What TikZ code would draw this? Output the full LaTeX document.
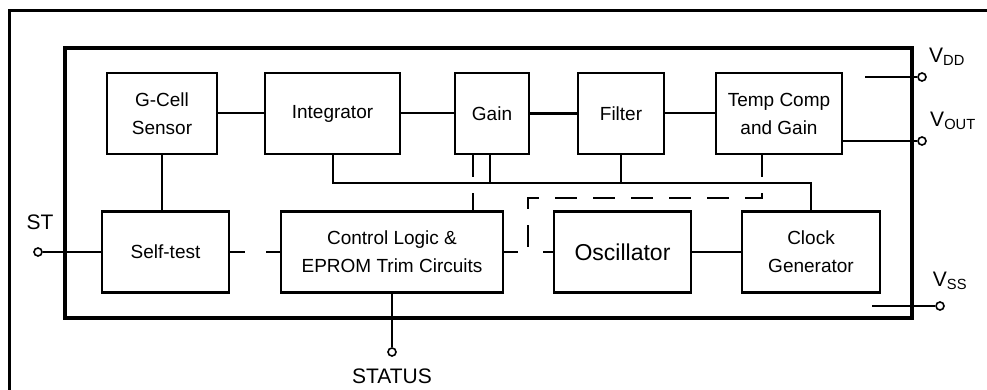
\documentclass[tikz,border=0pt]{standalone}
\usepackage{fontspec}
\setmainfont{Liberation Sans}
\usepackage{tikz}

\begin{document}
\begin{tikzpicture}[x=1pt,y=-1pt,
  blk/.style={draw,line width=2.6pt,align=center,inner sep=0pt,minimum height=81pt,font=\fontsize{19}{28}\selectfont},
  wire/.style={line width=2pt},
  dwire/.style={line width=2pt,dash pattern=on 22pt off 16pt},
  pin/.style={circle,draw,line width=1.6pt,fill=white,inner sep=0pt,minimum size=8pt},
  lbl/.style={font=\fontsize{21}{23}\selectfont}]
  \useasboundingbox (0,0) rectangle (987,390);
  \draw[line width=3pt] (9,390) -- (9,11) -- (987,11);
  \draw[line width=4pt] (65,48) rectangle (912,318);
  \foreach \nm/\cx/\w/\txt in {gcell/162/110/{G-Cell\\Sensor}, integ/332.5/135/Integrator,
      gain/492/74/Gain, filter/621/86/Filter, temp/779/126/{Temp Comp\\and Gain}}
    \node[blk,minimum width=\w pt] (\nm) at (\cx,113.5) {\txt};
  \foreach \nm/\cx/\w/\txt in {selftest/165.5/127/Self-test, ctrl/392/222/{Control Logic \&\\EPROM Trim Circuits},
      clock/811/138/{Clock\\Generator}}
    \node[blk,minimum width=\w pt] (\nm) at (\cx,252) {\txt};
  \node[blk,minimum width=137pt,font=\fontsize{23}{25}\selectfont] (osc) at (622.5,252) {Oscillator};

  \draw[wire] (gcell) -- (integ);
  \draw[wire] (integ) -- (gain);
  \draw[wire,line width=3pt] (gain) -- (filter);
  \draw[wire] (filter) -- (temp);
  \draw[wire] (gcell.south) -- (gcell.south |- selftest.north);
  \coordinate (busy) at (0,183);
  \draw[wire] (integ.south) -- (integ.south |- busy) -| (clock.north);
  \draw[wire] (filter.south) -- (filter.south |- busy);
  \draw[wire] ([xshift=-2pt]gain.south) -- ([xshift=-2pt]gain.south |- busy);
  \draw[dwire] ([xshift=-19pt]gain.south) -- ([xshift=-19pt]gain.south |- ctrl.north);
  \coordinate (dj) at (528,198);
  \draw[dwire] ([xshift=-17pt]temp.south) |- (dj) -- (dj |- ctrl.east);
  \draw[wire,dash pattern=on 15pt off 21pt] (selftest) -- (ctrl);
  \draw[wire,dash pattern=on 14pt off 25pt] (ctrl) -- (osc);
  \draw[wire] (osc) -- (clock);

  \node[pin] (st) at (38,252) {};
  \node[lbl] (stlbl) at (40,222) {ST};
  \draw[wire] (st) -- (selftest);
  \node[pin] (status) at (392,352) {};
  \node[lbl] (statuslbl) at (392,376) {STATUS};
  \draw[wire] (ctrl) -- (status);
  \node[pin] (vdd) at (922,77) {};
  \coordinate (vddin) at (865,77);
  \draw[wire] (vddin) -- (vdd);
  \node[lbl] (vddlbl) at (947,57) {V\textsubscript{DD}};
  \node[pin] (vout) at (922,141) {};
  \draw[wire] (temp.east |- vout) -- (vout);
  \node[lbl] (voutlbl) at (953,121) {V\textsubscript{OUT}};
  \node[pin] (vss) at (940,306) {};
  \coordinate (vssin) at (872,306);
  \draw[wire] (vssin) -- (vss);
  \node[lbl] (vsslbl) at (950,281) {V\textsubscript{SS}};
\end{tikzpicture}
\end{document}
